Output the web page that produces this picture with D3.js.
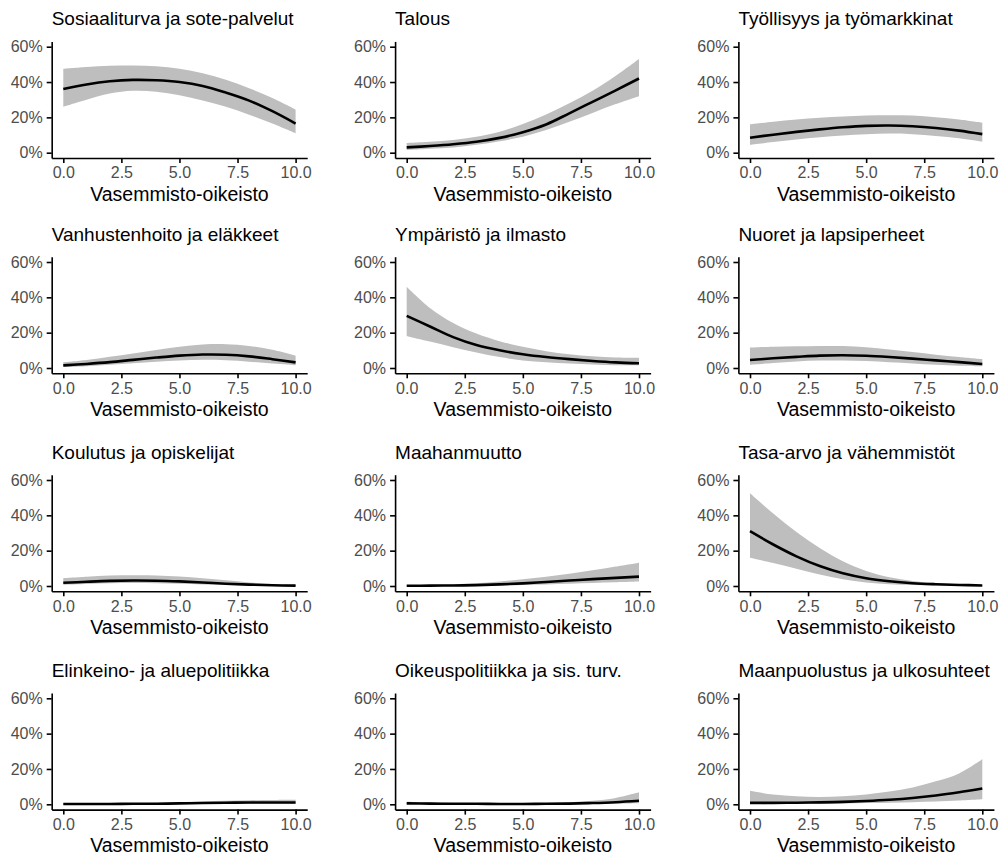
<!DOCTYPE html>
<html>
<head>
<meta charset="utf-8">
<script src="https://cdn.jsdelivr.net/npm/d3@7"></script>
<style>
  html, body { margin: 0; padding: 0; background: #fff; }
  svg { display: block; }
  text { font-family: "Liberation Sans", Arial, Helvetica, sans-serif; }
</style>
</head>
<body>
<svg id="chart" width="1006" height="859"></svg>
<script>
// ---- Data (values in %) ----
const xValues = [0, 1, 2, 3, 4, 5, 6, 7, 8, 9, 10];
const xTicks = [0, 2.5, 5, 7.5, 10];
const yTicks = [0, 0.2, 0.4, 0.6];
const xLabel = "Vasemmisto-oikeisto";

const titles = [
  "Sosiaaliturva ja sote-palvelut", "Talous", "Työllisyys ja työmarkkinat",
  "Vanhustenhoito ja eläkkeet", "Ympäristö ja ilmasto", "Nuoret ja lapsiperheet",
  "Koulutus ja opiskelijat", "Maahanmuutto", "Tasa-arvo ja vähemmistöt",
  "Elinkeino- ja aluepolitiikka", "Oikeuspolitiikka ja sis. turv.", "Maanpuolustus ja ulkosuhteet"
];

const fitSosiaali   = [36, 38.6, 40.4, 41.2, 41, 40, 37.8, 34, 29.5, 23.5, 16.5];
const upSosiaali    = [47.5, 48.5, 49.2, 49.4, 49, 47.5, 45, 41.3, 36.5, 31, 24.5];
const loSosiaali    = [26, 30, 33.5, 35, 34.5, 32.5, 29.5, 26, 21.5, 16.5, 11];

const fitTalous     = [3, 3.8, 4.8, 6.2, 8.4, 11.6, 16, 22.3, 28.8, 35.3, 42];
const upTalous      = [5.5, 6.2, 7.2, 9, 11.8, 16.3, 21.6, 28, 35, 43.5, 53];
const loTalous      = [1.5, 2.2, 3, 4.5, 6.5, 9, 12.8, 17.5, 22.5, 27.5, 32];

const fitTyo        = [8.5, 10.2, 11.8, 13.2, 14.4, 15.2, 15.4, 15, 14, 12.5, 10.5];
const upTyo         = [16, 17.5, 18.8, 19.8, 20.5, 21, 21.2, 21, 20, 18.8, 17];
const loTyo         = [4.5, 6, 7.5, 8.8, 9.8, 10.5, 10.8, 10.5, 9.5, 8.2, 6.3];

const fitVanhus     = [1.5, 2.3, 3.3, 4.6, 5.9, 7, 7.6, 7.5, 6.6, 5, 3.2];
const upVanhus      = [3.2, 4.5, 6.3, 8.2, 10.2, 12, 13.3, 13.5, 12.5, 10.3, 7];
const loVanhus      = [0.5, 1, 1.8, 2.7, 3.6, 4.3, 4.6, 4.4, 3.6, 2.5, 1.5];

const fitYmparisto  = [29.5, 23.5, 17.5, 13, 10, 7.8, 6.2, 5, 4, 3.2, 2.7];
const upYmparisto   = [46, 34, 25.5, 19.5, 15.2, 12, 9.5, 7.8, 6.6, 6, 5.8];
const loYmparisto   = [18, 15, 11.8, 8.8, 6.2, 4.3, 3.2, 2.5, 2, 1.6, 1.5];

const fitNuoret     = [4.5, 5.5, 6.3, 7, 7.2, 6.9, 6.2, 5.3, 4.3, 3.3, 2.3];
const upNuoret      = [11.5, 12, 12.3, 12.5, 12.4, 11.7, 10.5, 9, 7.5, 6.2, 5];
const loNuoret      = [1.8, 2.8, 3.7, 4.2, 4.2, 3.9, 3.2, 2.5, 1.8, 1.3, 1];

const fitKoulutus   = [1.8, 2.4, 2.9, 3.1, 3, 2.6, 2, 1.3, 0.8, 0.4, 0.2];
const upKoulutus    = [4.5, 5.3, 5.9, 6.1, 6, 5.4, 4.4, 3.2, 2, 1.1, 0.6];
const loKoulutus    = [0.7, 1.1, 1.5, 1.7, 1.6, 1.3, 0.9, 0.5, 0.2, 0.1, 0];

const fitMaahan     = [0.1, 0.2, 0.3, 0.5, 0.9, 1.5, 2.3, 3.1, 3.9, 4.6, 5.3];
const upMaahan      = [0.4, 0.6, 0.9, 1.5, 2.5, 3.8, 5.3, 7, 8.9, 11, 13.2];
const loMaahan      = [0, 0, 0.1, 0.1, 0.3, 0.6, 0.9, 1.3, 1.7, 2.1, 2.5];

const fitTasa       = [31, 23.5, 16.8, 11.3, 7.2, 4.4, 2.7, 1.6, 1, 0.6, 0.3];
const upTasa        = [52.5, 41, 30.5, 21.5, 14, 8.5, 5, 2.9, 1.7, 1, 0.6];
const loTasa        = [16, 13, 9.8, 6.5, 3.8, 2, 1, 0.5, 0.25, 0.1, 0];

const fitElinkeino  = [0.2, 0.2, 0.2, 0.3, 0.3, 0.5, 0.7, 0.9, 1, 1, 1];
const upElinkeino   = [0.5, 0.5, 0.6, 0.7, 0.9, 1.2, 1.6, 2, 2.3, 2.5, 2.6];
const loElinkeino   = [0, 0, 0, 0.1, 0.1, 0.2, 0.3, 0.4, 0.4, 0.4, 0.3];

const fitOikeus     = [0.5, 0.4, 0.3, 0.3, 0.2, 0.2, 0.3, 0.4, 0.7, 1.2, 2];
const upOikeus      = [1.5, 1.1, 0.8, 0.7, 0.6, 0.6, 0.8, 1.2, 2, 3.6, 6.8];
const loOikeus      = [0.1, 0.1, 0.1, 0.1, 0.1, 0.1, 0.1, 0.1, 0.2, 0.4, 0.6];

const fitMaanpuol   = [0.8, 0.8, 0.9, 1.1, 1.4, 1.9, 2.6, 3.6, 5, 6.8, 8.9];
const upMaanpuol    = [7.6, 5.5, 4.5, 4.2, 4.6, 5.6, 7.2, 9.5, 13, 17.5, 25.5];
const loMaanpuol    = [0.1, 0.1, 0.2, 0.3, 0.5, 0.7, 0.9, 1.2, 1.6, 2.1, 2.8];

const fits   = [fitSosiaali, fitTalous, fitTyo, fitVanhus, fitYmparisto, fitNuoret,
                fitKoulutus, fitMaahan, fitTasa, fitElinkeino, fitOikeus, fitMaanpuol];
const uppers = [upSosiaali, upTalous, upTyo, upVanhus, upYmparisto, upNuoret,
                upKoulutus, upMaahan, upTasa, upElinkeino, upOikeus, upMaanpuol];
const lowers = [loSosiaali, loTalous, loTyo, loVanhus, loYmparisto, loNuoret,
                loKoulutus, loMaahan, loTasa, loElinkeino, loOikeus, loMaanpuol];

// ---- Layout ----
const colX0 = [63.3, 406.7, 750];        // pixel of x = 0
const xSpan = 232.3;                     // pixels from x=0 to x=10
const rowY60 = [46.7, 262, 480, 698.3];  // pixel of 60%
const ySpan = 106;                       // pixels from 0% to 60%

const svg = d3.select("#chart");
const pctFmt = d3.format(".0%");
const curve = d3.curveCatmullRom.alpha(0.5);

titles.forEach((title, i) => {
  const c = i % 3, r = Math.floor(i / 3);
  const ux = xSpan / 10, uy = ySpan / 0.6;
  const left = colX0[c] - 0.5 * ux, right = colX0[c] + xSpan + 0.5 * ux;
  const top = rowY60[r] - 0.03 * uy, bottom = rowY60[r] + ySpan + 0.03 * uy;

  const x = d3.scaleLinear().domain([-0.5, 10.5]).range([left, right]);
  const y = d3.scaleLinear().domain([-0.03, 0.63]).range([bottom, top]);

  const g = svg.append("g");
  const pts = xValues.map((xv, k) => ({x: xv, fit: fits[i][k] / 100, up: uppers[i][k] / 100, lo: lowers[i][k] / 100}));

  g.append("path")
    .datum(pts)
    .attr("fill", "#bebebe")
    .attr("d", d3.area().curve(curve)
      .x(d => x(d.x)).y0(d => y(d.lo)).y1(d => y(d.up)));

  g.append("path")
    .datum(pts)
    .attr("fill", "none")
    .attr("stroke", "#000")
    .attr("stroke-width", 2.6)
    .attr("stroke-linejoin", "round")
    .attr("d", d3.line().curve(curve).x(d => x(d.x)).y(d => y(d.fit)));

  const ya = g.append("g").attr("transform", `translate(${left},0)`)
    .call(d3.axisLeft(y).tickValues(yTicks).tickFormat(pctFmt).tickSize(5).tickPadding(4).tickSizeOuter(0));
  const xa = g.append("g").attr("transform", `translate(0,${bottom})`)
    .call(d3.axisBottom(x).tickValues(xTicks).tickFormat(d3.format(".1f")).tickSize(5).tickPadding(4).tickSizeOuter(0));

  [ya, xa].forEach(a => {
    a.select(".domain").attr("stroke", "#000").attr("stroke-width", 1.6);
    a.selectAll(".tick line").attr("stroke", "#000").attr("stroke-width", 1.6);
    a.selectAll(".tick text").attr("fill", "#4d4d4d").style("font-size", "16px")
      .style("font-family", '"Liberation Sans", Arial, sans-serif');
  });

  g.append("text")
    .attr("x", left).attr("y", rowY60[r] - 21.5)
    .attr("fill", "#000").style("font-size", "19px")
    .text(title);

  g.append("text")
    .attr("x", (left + right) / 2).attr("y", rowY60[r] + ySpan + 48)
    .attr("text-anchor", "middle")
    .attr("fill", "#000").style("font-size", "19.5px")
    .text(xLabel);
});
</script>
</body>
</html>
